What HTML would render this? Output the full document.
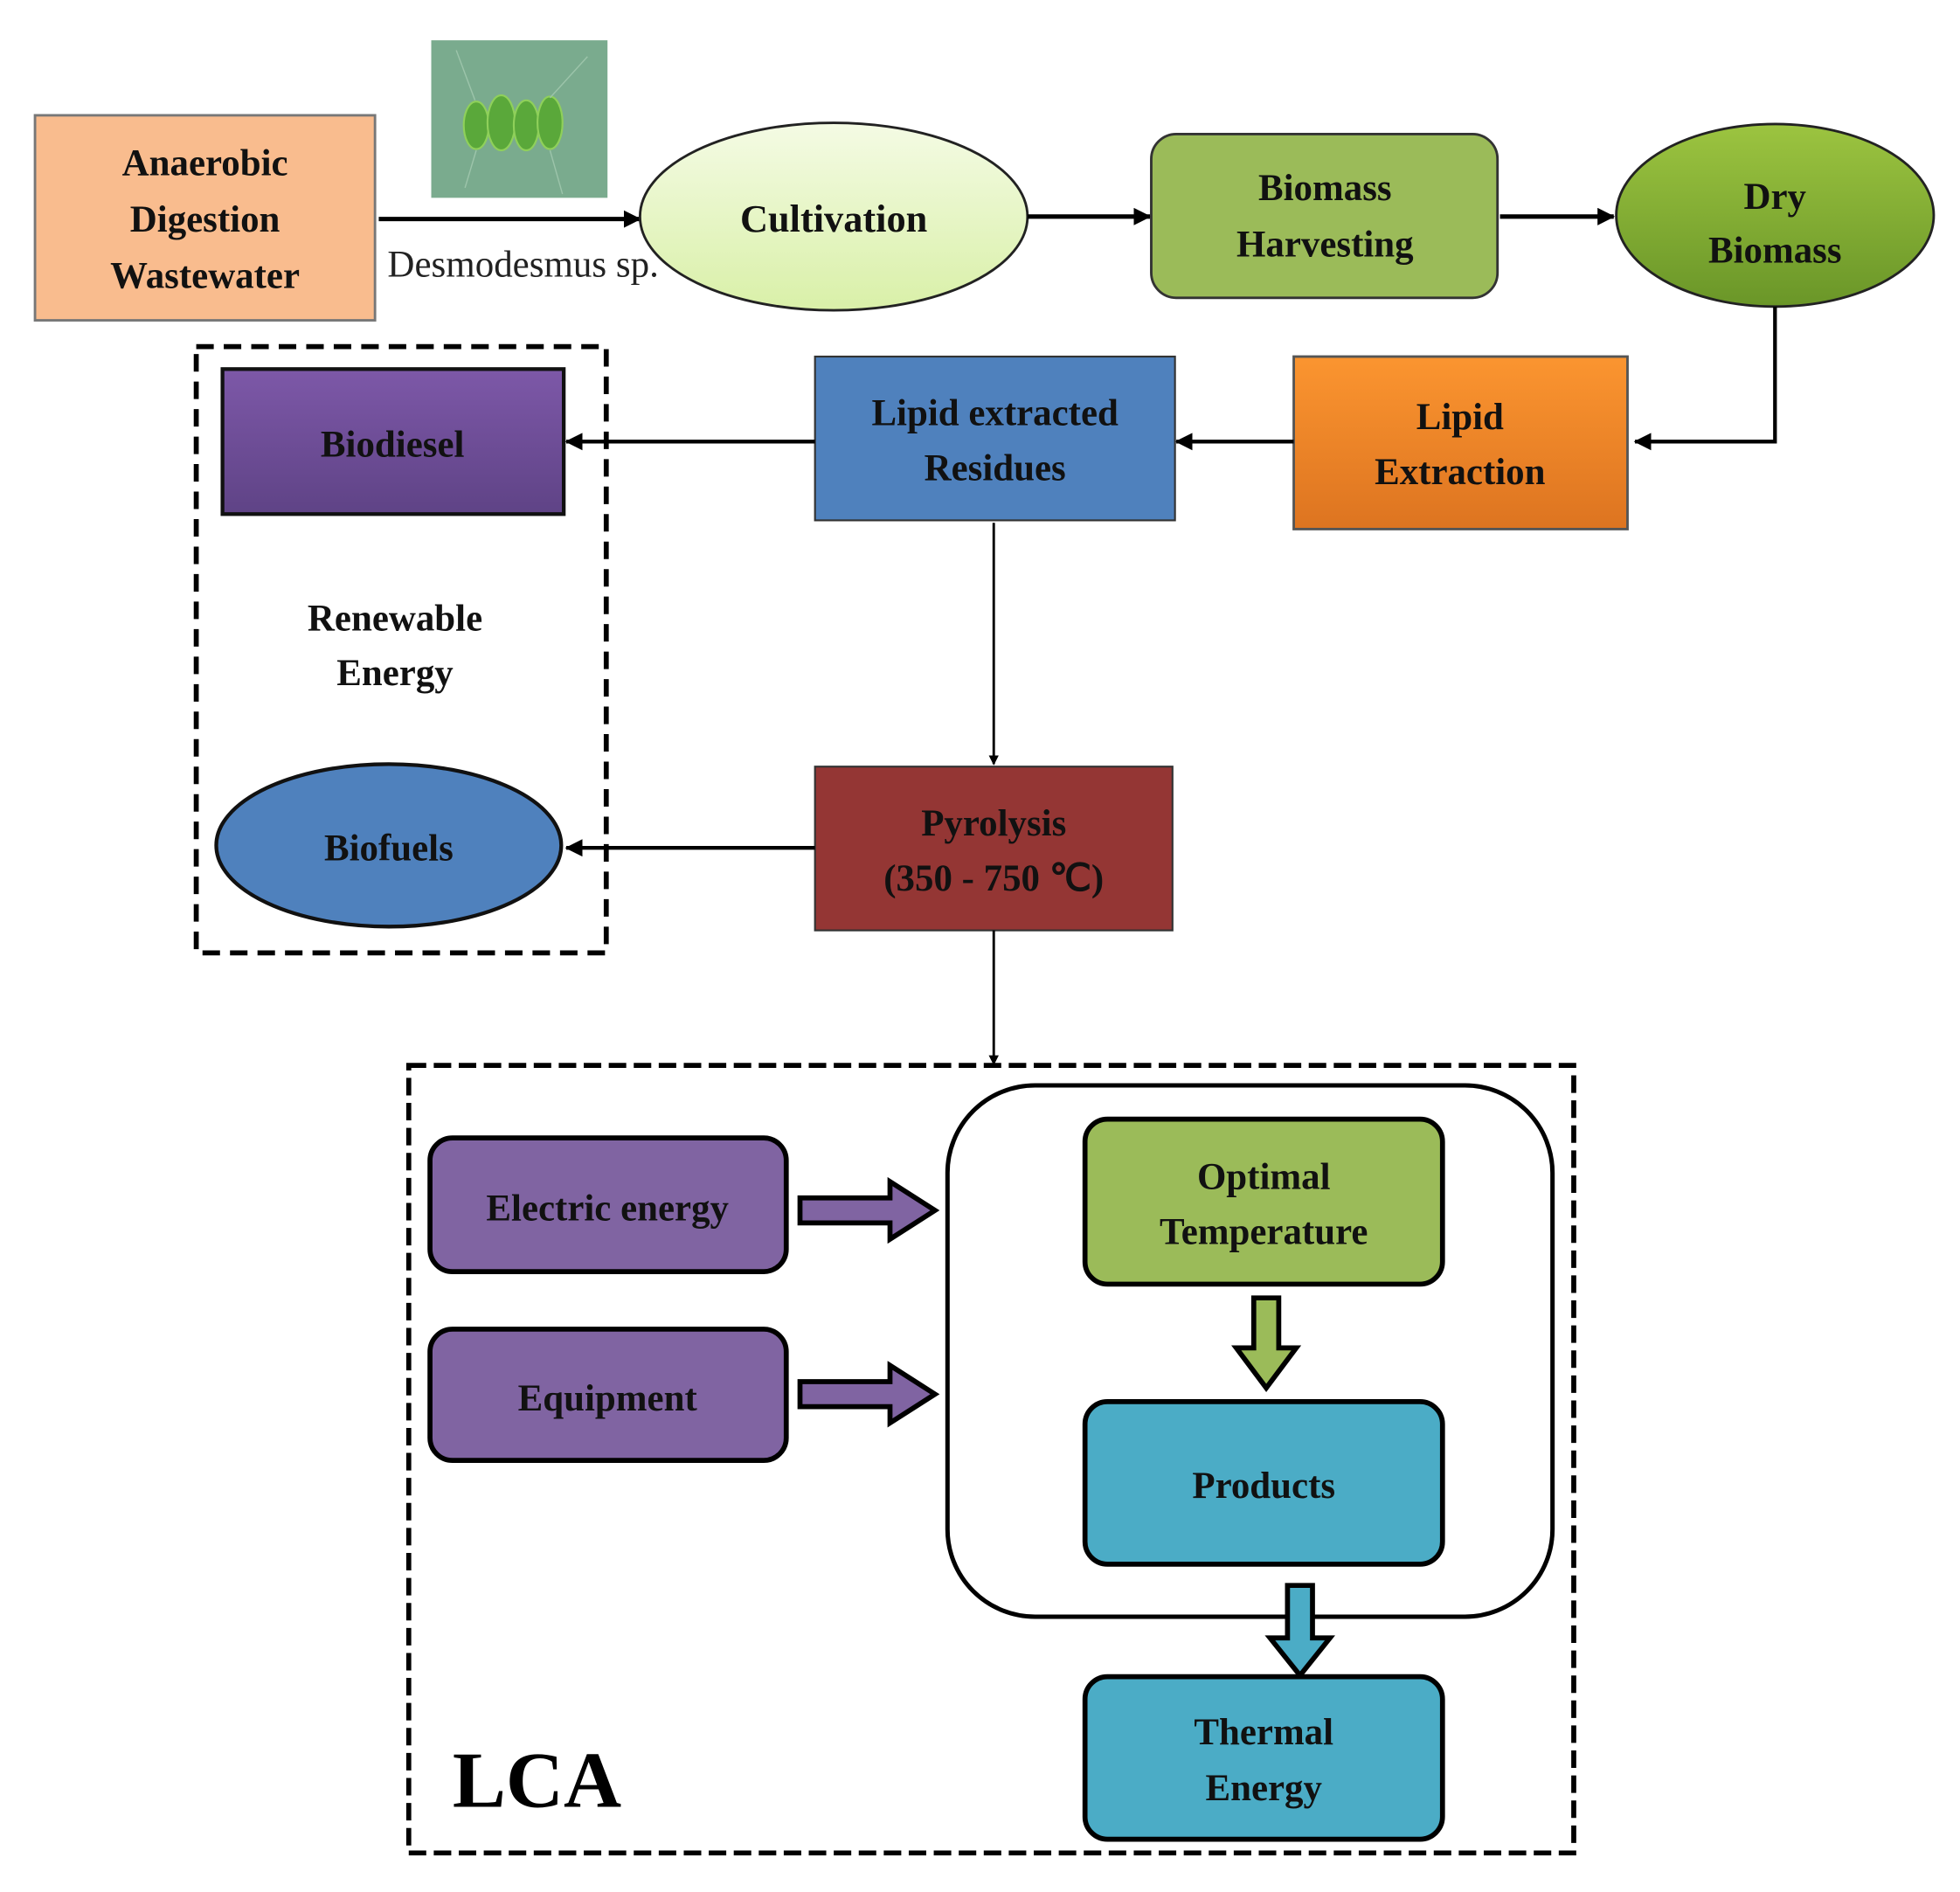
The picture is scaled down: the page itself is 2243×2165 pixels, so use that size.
<!DOCTYPE html>
<html><head><meta charset="utf-8"><style>html,body{margin:0;padding:0;background:#fff}svg{display:block}</style></head>
<body>
<svg width="2243" height="2165" viewBox="0 0 1568 1513" xmlns="http://www.w3.org/2000/svg" font-family="'Liberation Serif', serif" font-weight="bold">
<defs>
<linearGradient id="gCult" x1="0" y1="0" x2="0" y2="1"><stop offset="0" stop-color="#f4fbe4"/><stop offset="1" stop-color="#d9f0a8"/></linearGradient>
<linearGradient id="gDry" x1="0" y1="0" x2="0" y2="1"><stop offset="0" stop-color="#9cc440"/><stop offset="1" stop-color="#6a9628"/></linearGradient>
<linearGradient id="gOr" x1="0" y1="0" x2="0" y2="1"><stop offset="0" stop-color="#fb9530"/><stop offset="1" stop-color="#dd7420"/></linearGradient>
<linearGradient id="gPur" x1="0" y1="0" x2="0" y2="1"><stop offset="0" stop-color="#7d58a8"/><stop offset="1" stop-color="#5f4386"/></linearGradient>
<marker id="ah" markerWidth="8" markerHeight="8" refX="7" refY="4" orient="auto" markerUnits="userSpaceOnUse"><path d="M0,0 L8,4 L0,8 Z" fill="#000"/></marker>
<marker id="ahL" markerWidth="14" markerHeight="14" refX="13" refY="7" orient="auto" markerUnits="userSpaceOnUse"><path d="M0,0 L14,7 L0,14 Z" fill="#000"/></marker>
</defs>

<rect x="28" y="92" width="272" height="164" fill="#f9bc8e" stroke="#777" stroke-width="2"/>
<g font-size="30" text-anchor="middle" fill="#111">
<text x="164" y="140">Anaerobic</text>
<text x="164" y="185">Digestion</text>
<text x="164" y="230">Wastewater</text>
</g>
<rect x="345" y="32" width="141" height="126" fill="#7aab8e"/>
<g fill="#5aa83a" stroke="#8fd05a" stroke-width="1.5">
<ellipse cx="381" cy="100" rx="10" ry="19"/>
<ellipse cx="401" cy="98" rx="11" ry="22"/>
<ellipse cx="421" cy="100" rx="10" ry="20"/>
<ellipse cx="440" cy="98" rx="10" ry="21"/>
</g>
<path d="M380 80 L365 40 M440 78 L470 45 M381 120 L372 150 M440 120 L450 155" stroke="#9cc4aa" stroke-width="1" fill="none"/>

<line x1="303" y1="175" x2="512" y2="175" stroke="#000" stroke-width="3.5" marker-end="url(#ahL)"/>
<text x="310" y="221" font-size="30" font-weight="normal" fill="#222" textLength="217" lengthAdjust="spacingAndGlyphs">Desmodesmus sp.</text>

<ellipse cx="667" cy="173" rx="155" ry="75" fill="url(#gCult)" stroke="#222" stroke-width="2"/>
<text x="667" y="185" font-size="31" text-anchor="middle" fill="#111">Cultivation</text>
<line x1="822" y1="173" x2="920" y2="173" stroke="#000" stroke-width="3.5" marker-end="url(#ahL)"/>

<rect x="921" y="107" width="277" height="131" rx="20" fill="#9bbb59" stroke="#333" stroke-width="2"/>
<g font-size="30" text-anchor="middle" fill="#111">
<text x="1060" y="160">Biomass</text>
<text x="1060" y="205">Harvesting</text>
</g>
<line x1="1200" y1="173" x2="1291" y2="173" stroke="#000" stroke-width="3.5" marker-end="url(#ahL)"/>

<ellipse cx="1420" cy="172" rx="127" ry="73" fill="url(#gDry)" stroke="#222" stroke-width="2"/>
<g font-size="30" text-anchor="middle" fill="#111">
<text x="1420" y="167">Dry</text>
<text x="1420" y="210">Biomass</text>
</g>
<polyline points="1420,245 1420,353 1308,353" fill="none" stroke="#000" stroke-width="3" marker-end="url(#ahL)"/>

<rect x="1035" y="285" width="267" height="138" fill="url(#gOr)" stroke="#555" stroke-width="2"/>
<g font-size="30" text-anchor="middle" fill="#111">
<text x="1168" y="343">Lipid</text>
<text x="1168" y="387">Extraction</text>
</g>
<line x1="1035" y1="353" x2="941" y2="353" stroke="#000" stroke-width="3" marker-end="url(#ahL)"/>

<rect x="652" y="285" width="288" height="131" fill="#4f81bd" stroke="#333" stroke-width="1.5"/>
<g font-size="30" text-anchor="middle" fill="#111">
<text x="796" y="340">Lipid extracted</text>
<text x="796" y="384">Residues</text>
</g>
<line x1="652" y1="353" x2="453" y2="353" stroke="#000" stroke-width="3" marker-end="url(#ahL)"/>

<rect x="157" y="277" width="328" height="485" fill="none" stroke="#000" stroke-width="4" stroke-dasharray="14,8"/>
<rect x="178" y="295" width="273" height="116" fill="url(#gPur)" stroke="#111" stroke-width="3"/>
<text x="314" y="365" font-size="30" text-anchor="middle" fill="#111">Biodiesel</text>
<g font-size="30" text-anchor="middle" fill="#111">
<text x="316" y="504">Renewable</text>
<text x="316" y="548">Energy</text>
</g>
<ellipse cx="311" cy="676" rx="138" ry="65" fill="#4f81bd" stroke="#111" stroke-width="3"/>
<text x="311" y="688" font-size="30" text-anchor="middle" fill="#111">Biofuels</text>

<line x1="795" y1="418" x2="795" y2="611" stroke="#000" stroke-width="2" marker-end="url(#ah)"/>

<rect x="652" y="613" width="286" height="131" fill="#943634" stroke="#333" stroke-width="1.5"/>
<g font-size="30" text-anchor="middle" fill="#111">
<text x="795" y="668">Pyrolysis</text>
<text x="795" y="712">(350 - 750 ℃)</text>
</g>
<line x1="652" y1="678" x2="453" y2="678" stroke="#000" stroke-width="3" marker-end="url(#ahL)"/>
<line x1="795" y1="744" x2="795" y2="851" stroke="#000" stroke-width="2" marker-end="url(#ah)"/>

<rect x="327" y="852" width="932" height="630" fill="none" stroke="#000" stroke-width="4" stroke-dasharray="14,6"/>
<text x="362" y="1445" font-size="64" fill="#000">LCA</text>

<rect x="344" y="910" width="285" height="107" rx="18" fill="#8064a2" stroke="#000" stroke-width="4"/>
<text x="486" y="976" font-size="30" text-anchor="middle" fill="#111">Electric energy</text>
<rect x="344" y="1063" width="285" height="105" rx="18" fill="#8064a2" stroke="#000" stroke-width="4"/>
<text x="486" y="1128" font-size="30" text-anchor="middle" fill="#111">Equipment</text>

<path d="M640,958 L712,958 L712,945 L748,968 L712,991 L712,978 L640,978 Z" fill="#8064a2" stroke="#000" stroke-width="4"/>
<path d="M640,1105 L712,1105 L712,1092 L748,1115 L712,1138 L712,1125 L640,1125 Z" fill="#8064a2" stroke="#000" stroke-width="4"/>

<rect x="758" y="868" width="484" height="425" rx="70" fill="none" stroke="#000" stroke-width="3.5"/>

<rect x="868" y="895" width="286" height="132" rx="18" fill="#9bbb59" stroke="#000" stroke-width="4"/>
<g font-size="30" text-anchor="middle" fill="#111">
<text x="1011" y="951">Optimal</text>
<text x="1011" y="995">Temperature</text>
</g>
<path d="M1003,1038 L1023,1038 L1023,1078 L1037,1078 L1013,1110 L989,1078 L1003,1078 Z" fill="#9bbb59" stroke="#000" stroke-width="4"/>

<rect x="868" y="1121" width="286" height="130" rx="18" fill="#4bacc6" stroke="#000" stroke-width="4"/>
<text x="1011" y="1198" font-size="30" text-anchor="middle" fill="#111">Products</text>
<path d="M1030,1268 L1050,1268 L1050,1310 L1064,1310 L1040,1340 L1016,1310 L1030,1310 Z" fill="#4bacc6" stroke="#000" stroke-width="4"/>

<rect x="868" y="1341" width="286" height="130" rx="18" fill="#4bacc6" stroke="#000" stroke-width="4"/>
<g font-size="30" text-anchor="middle" fill="#111">
<text x="1011" y="1395">Thermal</text>
<text x="1011" y="1440">Energy</text>
</g>
</svg>
</body></html>
